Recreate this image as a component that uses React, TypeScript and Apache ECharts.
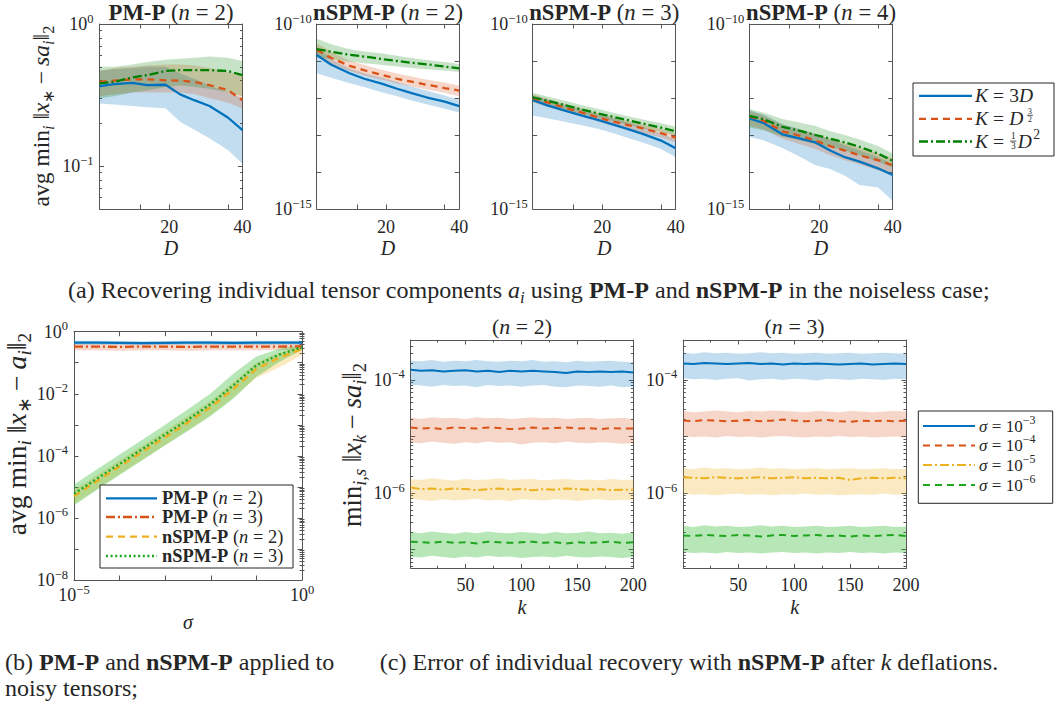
import React, { useEffect, useRef } from 'react';
import * as echarts from 'echarts';

const FONT = '"Liberation Serif", "Times New Roman", Times, serif';
const INK = '#262626';
const AXIS = '#555555';
const BLUE = '#0072BD';
const ORANGE = '#D95319';
const YELLOW = '#EDB120';
const DKGREEN = '#008000';
const GREEN = '#1FA51F';

// ---------------- (a) noiseless case, x = D ----------------
const D_VALUES = [1, 5, 10, 14, 19, 23, 27, 31, 36, 40];
const TOP_X_TICKS = [12, 20, 36, 40];
const TOP_X_LABELS = [20, 40];

// (a1) PM-P, n = 2  (plain values)
const a1_3D = [0.366, 0.378, 0.386, 0.372, 0.374, 0.32, 0.29, 0.265, 0.22, 0.179];
const a1_3D_lo = [0.276, 0.272, 0.265, 0.26, 0.256, 0.205, 0.18, 0.157, 0.13, 0.104];
const a1_3D_hi = [0.47, 0.48, 0.49, 0.5, 0.5, 0.45, 0.41, 0.37, 0.33, 0.3];
const a1_D15 = [0.392, 0.4, 0.408, 0.408, 0.402, 0.4, 0.39, 0.372, 0.343, 0.291];
const a1_D15_lo = [0.31, 0.32, 0.33, 0.33, 0.33, 0.33, 0.32, 0.3, 0.28, 0.255];
const a1_D15_hi = [0.47, 0.49, 0.5, 0.51, 0.52, 0.52, 0.51, 0.49, 0.46, 0.44];
const a1_D2 = [0.382, 0.392, 0.421, 0.437, 0.467, 0.474, 0.474, 0.474, 0.467, 0.437];
const a1_D2_lo = [0.3, 0.31, 0.33, 0.34, 0.36, 0.37, 0.36, 0.35, 0.33, 0.31];
const a1_D2_hi = [0.5, 0.5, 0.52, 0.54, 0.56, 0.57, 0.58, 0.59, 0.58, 0.55];

// (a2) nSPM-P, n = 2  (base-10 exponents)
const a2_3D_exp = [-10.84, -11.1, -11.33, -11.48, -11.62, -11.75, -11.87, -11.98, -12.1, -12.22];
const a2_3D_lo_exp = [-11.33, -11.45, -11.6, -11.7, -11.85, -11.95, -12.07, -12.17, -12.29, -12.39];
const a2_3D_hi_exp = [-10.62, -10.95, -11.2, -11.33, -11.45, -11.57, -11.69, -11.8, -11.93, -12.05];
const a2_D15_exp = [-10.7, -10.92, -11.13, -11.25, -11.38, -11.48, -11.56, -11.64, -11.73, -11.8];
const a2_D15_lo_exp = [-10.88, -11.08, -11.27, -11.39, -11.51, -11.61, -11.69, -11.77, -11.86, -11.95];
const a2_D15_hi_exp = [-10.52, -10.76, -10.99, -11.11, -11.24, -11.34, -11.42, -11.5, -11.59, -11.66];
const a2_D2_exp = [-10.68, -10.75, -10.83, -10.88, -10.95, -11.0, -11.05, -11.09, -11.15, -11.2];
const a2_D2_lo_exp = [-10.9, -10.95, -11.02, -11.06, -11.11, -11.15, -11.19, -11.22, -11.26, -11.3];
const a2_D2_hi_exp = [-10.4, -10.55, -10.68, -10.74, -10.8, -10.86, -10.92, -10.97, -11.03, -11.08];

// (a3) nSPM-P, n = 3
const a3_3D_exp = [-12.05, -12.2, -12.35, -12.46, -12.6, -12.72, -12.84, -12.97, -13.15, -13.36];
const a3_3D_lo_exp = [-12.47, -12.55, -12.65, -12.73, -12.84, -12.95, -13.08, -13.2, -13.38, -13.6];
const a3_3D_hi_exp = [-11.93, -12.05, -12.2, -12.3, -12.45, -12.55, -12.66, -12.78, -12.95, -13.12];
const a3_D15_exp = [-12.0, -12.12, -12.27, -12.38, -12.53, -12.64, -12.73, -12.82, -12.95, -13.07];
const a3_D15_lo_exp = [-12.12, -12.24, -12.38, -12.49, -12.64, -12.75, -12.85, -12.94, -13.07, -13.2];
const a3_D15_hi_exp = [-11.9, -12.02, -12.16, -12.27, -12.41, -12.52, -12.62, -12.71, -12.84, -12.95];
const a3_D2_exp = [-11.98, -12.07, -12.2, -12.3, -12.42, -12.51, -12.6, -12.69, -12.8, -12.9];
const a3_D2_lo_exp = [-12.1, -12.19, -12.32, -12.42, -12.54, -12.63, -12.72, -12.81, -12.92, -13.02];
const a3_D2_hi_exp = [-11.86, -11.96, -12.08, -12.18, -12.3, -12.4, -12.49, -12.58, -12.68, -12.78];

// (a4) nSPM-P, n = 4
const a4_3D_exp = [-12.55, -12.68, -12.98, -13.08, -13.2, -13.42, -13.6, -13.72, -13.9, -14.08];
const a4_3D_lo_exp = [-13.05, -13.15, -13.35, -13.55, -13.82, -13.92, -14.1, -14.35, -14.42, -14.78];
const a4_3D_hi_exp = [-12.33, -12.45, -12.7, -12.82, -12.98, -13.12, -13.28, -13.42, -13.6, -13.78];
const a4_D15_exp = [-12.5, -12.62, -12.9, -13.0, -13.15, -13.3, -13.42, -13.55, -13.68, -13.82];
const a4_D15_lo_exp = [-12.75, -12.85, -13.1, -13.22, -13.38, -13.55, -13.68, -13.8, -13.95, -14.1];
const a4_D15_hi_exp = [-12.35, -12.48, -12.72, -12.83, -12.97, -13.1, -13.22, -13.35, -13.5, -13.63];
const a4_D2_exp = [-12.48, -12.58, -12.78, -12.87, -13.0, -13.1, -13.2, -13.32, -13.5, -13.7];
const a4_D2_lo_exp = [-12.8, -12.88, -13.05, -13.12, -13.25, -13.33, -13.42, -13.55, -13.72, -13.88];
const a4_D2_hi_exp = [-12.3, -12.4, -12.57, -12.65, -12.76, -12.9, -13.0, -13.12, -13.3, -13.5];

// ---------------- (b) noisy tensors, x = log10(sigma) ----------------
const SIGMA_EXP = [-5, -4.5, -4, -3.5, -3, -2.5, -2, -1.5, -1, -0.5, 0];
const b_pmp2_exp = [-0.35, -0.35, -0.36, -0.37, -0.36, -0.35, -0.35, -0.36, -0.35, -0.35, -0.35];
const b_pmp2_lo_exp = [-0.42, -0.42, -0.43, -0.44, -0.43, -0.42, -0.42, -0.43, -0.42, -0.42, -0.42];
const b_pmp2_hi_exp = [-0.29, -0.29, -0.3, -0.31, -0.3, -0.29, -0.29, -0.3, -0.29, -0.29, -0.29];
const b_pmp3_exp = [-0.48, -0.48, -0.49, -0.48, -0.48, -0.49, -0.48, -0.48, -0.48, -0.48, -0.47];
const b_pmp3_lo_exp = [-0.6, -0.6, -0.61, -0.6, -0.6, -0.61, -0.6, -0.6, -0.6, -0.59, -0.58];
const b_pmp3_hi_exp = [-0.4, -0.4, -0.41, -0.4, -0.4, -0.41, -0.4, -0.4, -0.4, -0.4, -0.39];
const b_nspm2_exp = [-5.3, -4.82, -4.34, -3.87, -3.4, -2.92, -2.43, -1.84, -1.2, -0.84, -0.56];
const b_nspm2_lo_exp = [-5.55, -5.07, -4.59, -4.12, -3.65, -3.17, -2.68, -2.1, -1.48, -1.15, -0.75];
const b_nspm2_hi_exp = [-5.1, -4.62, -4.14, -3.67, -3.2, -2.72, -2.23, -1.62, -1.0, -0.68, -0.46];
const b_nspm3_exp = [-5.22, -4.74, -4.26, -3.78, -3.31, -2.83, -2.33, -1.72, -1.08, -0.74, -0.5];
const b_nspm3_lo_exp = [-5.6, -5.1, -4.62, -4.14, -3.66, -3.2, -2.72, -2.15, -1.45, -0.98, -0.58];
const b_nspm3_hi_exp = [-4.92, -4.44, -3.96, -3.48, -3.0, -2.5, -1.98, -1.35, -0.8, -0.55, -0.42];

// ---------------- (c) deflations, x = k ----------------
const K_VALUES = [1, 10, 20, 30, 40, 50, 60, 70, 80, 90, 100, 110, 120, 130, 140, 150, 160, 170, 180, 190, 200];
// n = 2
const c1_s3_exp = [-3.82, -3.84, -3.83, -3.85, -3.84, -3.83, -3.85, -3.84, -3.86, -3.84, -3.85, -3.84, -3.85, -3.86, -3.88, -3.85, -3.86, -3.85, -3.86, -3.85, -3.87];
const c1_s3_hi_exp = [-3.66, -3.67, -3.65, -3.68, -3.66, -3.67, -3.65, -3.67, -3.68, -3.66, -3.67, -3.65, -3.68, -3.67, -3.69, -3.66, -3.68, -3.67, -3.66, -3.68, -3.69];
const c1_s3_lo_exp = [-4.08, -4.1, -4.12, -4.09, -4.11, -4.1, -4.13, -4.09, -4.11, -4.1, -4.12, -4.1, -4.09, -4.12, -4.13, -4.1, -4.11, -4.12, -4.1, -4.13, -4.12];
const c1_s4_exp = [-4.84, -4.86, -4.85, -4.87, -4.84, -4.85, -4.86, -4.84, -4.85, -4.87, -4.86, -4.84, -4.86, -4.85, -4.84, -4.86, -4.85, -4.87, -4.85, -4.86, -4.86];
const c1_s4_hi_exp = [-4.67, -4.69, -4.66, -4.68, -4.67, -4.69, -4.66, -4.68, -4.67, -4.69, -4.68, -4.66, -4.68, -4.67, -4.69, -4.68, -4.67, -4.69, -4.68, -4.67, -4.69];
const c1_s4_lo_exp = [-5.1, -5.12, -5.09, -5.11, -5.13, -5.1, -5.12, -5.09, -5.11, -5.1, -5.14, -5.11, -5.1, -5.12, -5.09, -5.11, -5.12, -5.1, -5.11, -5.13, -5.12];
const c1_s5_exp = [-5.9, -5.93, -5.92, -5.94, -5.92, -5.93, -5.95, -5.93, -5.92, -5.94, -5.93, -5.95, -5.93, -5.94, -5.92, -5.93, -5.94, -5.93, -5.95, -5.94, -5.94];
const c1_s5_hi_exp = [-5.75, -5.77, -5.74, -5.76, -5.78, -5.75, -5.77, -5.76, -5.74, -5.77, -5.76, -5.75, -5.78, -5.76, -5.75, -5.77, -5.76, -5.78, -5.75, -5.77, -5.76];
const c1_s5_lo_exp = [-6.1, -6.12, -6.14, -6.11, -6.13, -6.12, -6.1, -6.13, -6.12, -6.14, -6.11, -6.12, -6.13, -6.11, -6.12, -6.14, -6.12, -6.11, -6.13, -6.12, -6.13];
const c1_s6_exp = [-6.86, -6.87, -6.88, -6.86, -6.88, -6.87, -6.89, -6.86, -6.87, -6.88, -6.87, -6.86, -6.88, -6.87, -6.89, -6.87, -6.88, -6.87, -6.86, -6.88, -6.87];
const c1_s6_hi_exp = [-6.69, -6.71, -6.68, -6.7, -6.72, -6.69, -6.71, -6.68, -6.7, -6.71, -6.69, -6.7, -6.72, -6.69, -6.71, -6.7, -6.68, -6.71, -6.7, -6.72, -6.7];
const c1_s6_lo_exp = [-7.12, -7.14, -7.11, -7.13, -7.15, -7.12, -7.14, -7.11, -7.13, -7.12, -7.15, -7.13, -7.12, -7.14, -7.11, -7.13, -7.14, -7.12, -7.13, -7.15, -7.13];
// n = 3
const c2_s3_exp = [-3.71, -3.72, -3.7, -3.71, -3.72, -3.71, -3.7, -3.72, -3.71, -3.73, -3.71, -3.72, -3.71, -3.72, -3.73, -3.72, -3.71, -3.73, -3.72, -3.71, -3.72];
const c2_s3_hi_exp = [-3.52, -3.54, -3.51, -3.53, -3.52, -3.54, -3.53, -3.51, -3.53, -3.52, -3.54, -3.53, -3.52, -3.54, -3.53, -3.52, -3.54, -3.53, -3.52, -3.53, -3.54];
const c2_s3_lo_exp = [-3.97, -3.99, -3.98, -4.0, -3.98, -3.97, -4.01, -3.99, -3.98, -4.0, -3.98, -3.99, -4.01, -3.98, -3.99, -4.0, -3.98, -3.99, -4.0, -3.98, -3.99];
const c2_s4_exp = [-4.72, -4.73, -4.71, -4.72, -4.73, -4.72, -4.71, -4.73, -4.72, -4.7, -4.72, -4.73, -4.72, -4.71, -4.73, -4.74, -4.72, -4.73, -4.72, -4.73, -4.72];
const c2_s4_hi_exp = [-4.55, -4.57, -4.56, -4.54, -4.56, -4.57, -4.55, -4.56, -4.54, -4.55, -4.56, -4.57, -4.55, -4.56, -4.57, -4.55, -4.56, -4.57, -4.56, -4.55, -4.56];
const c2_s4_lo_exp = [-4.99, -5.01, -5.0, -5.02, -4.99, -5.01, -5.0, -5.02, -5.0, -4.99, -5.01, -5.02, -5.0, -5.01, -4.99, -5.01, -5.0, -5.02, -5.01, -5.0, -5.01];
const c2_s5_exp = [-5.72, -5.73, -5.74, -5.72, -5.73, -5.74, -5.73, -5.72, -5.74, -5.73, -5.72, -5.74, -5.73, -5.74, -5.73, -5.77, -5.74, -5.73, -5.74, -5.73, -5.74];
const c2_s5_hi_exp = [-5.56, -5.58, -5.55, -5.57, -5.56, -5.58, -5.57, -5.55, -5.57, -5.56, -5.58, -5.57, -5.56, -5.58, -5.57, -5.56, -5.58, -5.57, -5.56, -5.58, -5.57];
const c2_s5_lo_exp = [-6.01, -6.03, -6.02, -6.04, -6.02, -6.01, -6.03, -6.02, -6.04, -6.02, -6.03, -6.01, -6.03, -6.02, -6.04, -6.03, -6.02, -6.03, -6.01, -6.03, -6.02];
const c2_s6_exp = [-6.75, -6.76, -6.74, -6.75, -6.76, -6.74, -6.75, -6.77, -6.75, -6.74, -6.76, -6.75, -6.74, -6.76, -6.75, -6.77, -6.75, -6.76, -6.75, -6.74, -6.76];
const c2_s6_hi_exp = [-6.58, -6.6, -6.57, -6.59, -6.58, -6.6, -6.59, -6.57, -6.59, -6.58, -6.6, -6.59, -6.58, -6.6, -6.59, -6.58, -6.6, -6.59, -6.58, -6.6, -6.59];
const c2_s6_lo_exp = [-7.04, -7.06, -7.05, -7.07, -7.04, -7.06, -7.05, -7.07, -7.05, -7.04, -7.06, -7.05, -7.07, -7.05, -7.06, -7.04, -7.06, -7.05, -7.07, -7.05, -7.06];

// ---------------- text layout helpers ----------------
let measureCtx: CanvasRenderingContext2D | null = null;
function textWidth(text: string, font: string): number {
  if (!measureCtx) measureCtx = document.createElement('canvas').getContext('2d');
  measureCtx!.font = font;
  return measureCtx!.measureText(text).width;
}

type Tok = { t?: string; k?: string; frac?: [string, string]; mode?: 'sup' | 'inline'; pl?: number; pr?: number };
const EQ: Tok = { t: '=', pl: 0.26, pr: 0.26 };

function fontFor(kind: string, size: number) {
  const italic = kind === 'i' || kind === 'subi' || kind === 'supi';
  const bold = kind === 'b';
  const small = kind.indexOf('sub') === 0 || kind.indexOf('sup') === 0;
  const s = small ? size * 0.7 : size;
  return `${italic ? 'italic ' : ''}${bold ? 'bold ' : ''}${s.toFixed(2)}px ${FONT}`;
}

function buildRun(toks: Tok[], size: number) {
  const items: any[] = [];
  let x = 0;
  for (const tk of toks) {
    x += (tk.pl || 0) * size;
    if (tk.frac) {
      const sup = tk.mode === 'sup';
      const fs = size * (sup ? 0.4 : 0.48);
      const f = `${fs.toFixed(2)}px ${FONT}`;
      const w = Math.max(textWidth(tk.frac[0], f), textWidth(tk.frac[1], f)) + size * 0.1;
      const cy = sup ? -0.18 * size : -0.02 * size;
      const gap = sup ? 0.21 * size : 0.27 * size;
      const xx = x + size * 0.04;
      items.push({ type: 'text', x: xx + w / 2, y: cy - gap, style: { text: tk.frac[0], font: f, fill: INK, textAlign: 'center', textVerticalAlign: 'middle' } });
      items.push({ type: 'text', x: xx + w / 2, y: cy + gap, style: { text: tk.frac[1], font: f, fill: INK, textAlign: 'center', textVerticalAlign: 'middle' } });
      items.push({ type: 'line', shape: { x1: xx, y1: cy, x2: xx + w, y2: cy }, style: { stroke: INK, lineWidth: Math.max(0.7, size * 0.04) } });
      x = xx + w + size * 0.06;
    } else {
      const kind = tk.k || 'r';
      const font = fontFor(kind, size);
      let dy = 0;
      if (kind.indexOf('sub') === 0) dy = 0.3 * size;
      if (kind.indexOf('sup') === 0) dy = -0.38 * size;
      items.push({ type: 'text', x, y: dy, style: { text: tk.t, font, fill: INK, textAlign: 'left', textVerticalAlign: 'middle' } });
      x += textWidth(tk.t || '', font);
    }
    x += (tk.pr || 0) * size;
  }
  return { items, width: x };
}

function fitSize(toks: Tok[], width: number, s0 = 20) {
  return (s0 * width) / buildRun(toks, s0).width;
}

function mathText(toks: Tok[], o: { x: number; y: number; size: number; align?: string; rotation?: number }) {
  const { items, width } = buildRun(toks, o.size);
  const off = o.align === 'center' ? -width / 2 : o.align === 'right' ? -width : 0;
  const children = items.map((it) =>
    it.type === 'line'
      ? { ...it, z: 100, shape: { ...it.shape, x1: it.shape.x1 + off, x2: it.shape.x2 + off } }
      : { ...it, z: 100, x: it.x + off }
  );
  return { type: 'group', x: o.x, y: o.y, rotation: o.rotation || 0, silent: true, children };
}

// ---------------- axis helpers ----------------
const expStr = (v: number) => {
  const n = Math.round(v);
  return n < 0 ? '\u2212' + -n : String(n);
};
const expRich = {
  b: { fontFamily: FONT, fontSize: 18, lineHeight: 24, color: INK },
  s: { fontFamily: FONT, fontSize: 12.5, lineHeight: 12, verticalAlign: 'top', color: INK },
};
const expFmt = (v: number) => `{b|10}{s|${expStr(v)}}`;
const numFmt = (v: number) => String(Math.round(v));

function logMinor(minE: number, maxE: number) {
  const out: number[] = [];
  for (let e = Math.floor(minE); e < Math.ceil(maxE); e++) {
    for (let m = 2; m <= 9; m++) {
      const v = e + Math.log10(m);
      if (v > minE + 1e-6 && v < maxE - 1e-6) out.push(v);
    }
  }
  return out;
}
function range(a: number, b: number) {
  const out: number[] = [];
  for (let v = a; v <= b; v++) out.push(v);
  return out;
}

interface AxisCfg {
  min: number;
  max: number;
  major: number[];
  minor?: number[];
  labels: number[];
  fmt: (v: number) => string;
  rich?: boolean;
  margin: number;
}

function addAxes(list: any[], gi: number, dim: 'x' | 'y', c: AxisCfg) {
  const posMain = dim === 'x' ? 'bottom' : 'left';
  const posOpp = dim === 'x' ? 'top' : 'right';
  const common = { type: 'value', gridIndex: gi, min: c.min, max: c.max, splitLine: { show: false }, splitArea: { show: false }, silent: true };
  const axLine = { show: true, onZero: false, lineStyle: { color: AXIS, width: 1 } };
  const tick = (vals: number[], len: number) => ({ show: true, inside: true, length: len, customValues: vals, lineStyle: { color: AXIS, width: 1 } });
  const idx = list.length;
  const label: any = { show: true, customValues: c.labels, formatter: c.fmt, margin: c.margin, hideOverlap: false, color: INK, fontFamily: FONT, fontSize: 18 };
  if (c.rich) label.rich = expRich;
  list.push({ ...common, position: posMain, axisLine: axLine, axisTick: tick(c.major, 4.5), axisLabel: label });
  list.push({ ...common, position: posOpp, axisLine: axLine, axisTick: tick(c.major, 4.5), axisLabel: { show: false } });
  if (c.minor && c.minor.length) {
    list.push({ ...common, position: posMain, axisLine: { show: false }, axisTick: tick(c.minor, 2.5), axisLabel: { show: false } });
    list.push({ ...common, position: posOpp, axisLine: { show: false }, axisTick: tick(c.minor, 2.5), axisLabel: { show: false } });
  }
  return idx;
}

function lineSeries(xi: number, yi: number, xs: number[], ys: number[], color: string, type: any, width = 2.2, cap = 'butt') {
  return {
    type: 'line', xAxisIndex: xi, yAxisIndex: yi, data: xs.map((x, i) => [x, ys[i]]),
    symbol: 'none', showSymbol: false, silent: true, z: 3, clip: true,
    lineStyle: { color, width, type, cap },
  };
}

function bandSeries(xi: number, yi: number, xs: number[], lo: number[], hi: number[], fill: string) {
  return {
    type: 'custom', xAxisIndex: xi, yAxisIndex: yi, silent: true, z: 1, clip: true,
    data: xs.map((x, i) => [x, lo[i], hi[i]]),
    encode: { x: 0, y: [1, 2] },
    renderItem: (params: any, api: any) => {
      if (params.dataIndex !== 0) return null;
      const pts: number[][] = [];
      for (let i = 0; i < xs.length; i++) pts.push(api.coord([xs[i], lo[i]]));
      for (let i = xs.length - 1; i >= 0; i--) pts.push(api.coord([xs[i], hi[i]]));
      return { type: 'polygon', shape: { points: pts }, style: { fill } };
    },
  };
}

const BAND_BLUE = 'rgba(0,114,189,0.24)';
const BAND_ORANGE = 'rgba(217,83,25,0.24)';
const BAND_DKGREEN = 'rgba(0,128,0,0.22)';
const BAND_YELLOW = 'rgba(237,177,32,0.28)';
const BAND_GREEN = 'rgba(30,180,30,0.32)';
const DASH = [7, 5];
const DASHDOT = [9, 3, 2, 3];
const DOT = [2, 2.6];

function buildOption() {
  const grids: any[] = [];
  const xAxes: any[] = [];
  const yAxes: any[] = [];
  const series: any[] = [];
  const g: any[] = [];

  const lg = (a: number[]) => a.map((v) => Math.log10(v));

  // ---- top row ----
  const topRects = [
    { left: 99.5, width: 143 },
    { left: 316.7, width: 142.5 },
    { left: 532.7, width: 143 },
    { left: 749.3, width: 143.4 },
  ];
  const topData = [
    [lg(a1_3D), lg(a1_3D_lo), lg(a1_3D_hi), lg(a1_D15), lg(a1_D15_lo), lg(a1_D15_hi), lg(a1_D2), lg(a1_D2_lo), lg(a1_D2_hi)],
    [a2_3D_exp, a2_3D_lo_exp, a2_3D_hi_exp, a2_D15_exp, a2_D15_lo_exp, a2_D15_hi_exp, a2_D2_exp, a2_D2_lo_exp, a2_D2_hi_exp],
    [a3_3D_exp, a3_3D_lo_exp, a3_3D_hi_exp, a3_D15_exp, a3_D15_lo_exp, a3_D15_hi_exp, a3_D2_exp, a3_D2_lo_exp, a3_D2_hi_exp],
    [a4_3D_exp, a4_3D_lo_exp, a4_3D_hi_exp, a4_D15_exp, a4_D15_lo_exp, a4_D15_hi_exp, a4_D2_exp, a4_D2_lo_exp, a4_D2_hi_exp],
  ];
  topRects.forEach((r, p) => {
    grids.push({ left: r.left, top: 24, width: r.width, height: 185, containLabel: false });
    const gi = grids.length - 1;
    const xi = addAxes(xAxes, gi, 'x', { min: 1, max: 40, major: TOP_X_TICKS, labels: TOP_X_LABELS, fmt: numFmt, margin: 9 });
    const ycfg: AxisCfg = p === 0
      ? { min: Math.log10(0.05), max: 0, major: [-1, 0], minor: logMinor(Math.log10(0.05), 0), labels: [-1, 0], fmt: expFmt, rich: true, margin: 6 }
      : { min: -15, max: -10, major: range(-15, -10), labels: [-15, -10], fmt: expFmt, rich: true, margin: 5 };
    const yi = addAxes(yAxes, gi, 'y', ycfg);
    const d = topData[p];
    series.push(bandSeries(xi, yi, D_VALUES, d[1], d[2], BAND_BLUE));
    series.push(bandSeries(xi, yi, D_VALUES, d[4], d[5], BAND_ORANGE));
    series.push(bandSeries(xi, yi, D_VALUES, d[7], d[8], BAND_DKGREEN));
    series.push(lineSeries(xi, yi, D_VALUES, d[0], BLUE, 'solid', 2.3));
    series.push(lineSeries(xi, yi, D_VALUES, d[3], ORANGE, DASH, 2.3));
    series.push(lineSeries(xi, yi, D_VALUES, d[6], DKGREEN, DASHDOT, 2.3));
  });

  // ---- (b) ----
  grids.push({ left: 74, top: 331.7, width: 228, height: 248.3, containLabel: false });
  const gb = grids.length - 1;
  const xb = addAxes(xAxes, gb, 'x', { min: -5, max: 0, major: range(-5, 0), labels: [-5, 0], fmt: expFmt, rich: true, margin: 3 });
  const yb = addAxes(yAxes, gb, 'y', { min: -8, max: 0, major: range(-8, 0), minor: logMinor(-8, 0), labels: [-8, -6, -4, -2, 0], fmt: expFmt, rich: true, margin: 6 });
  series.push(bandSeries(xb, yb, SIGMA_EXP, b_pmp2_lo_exp, b_pmp2_hi_exp, BAND_BLUE));
  series.push(bandSeries(xb, yb, SIGMA_EXP, b_pmp3_lo_exp, b_pmp3_hi_exp, BAND_ORANGE));
  series.push(bandSeries(xb, yb, SIGMA_EXP, b_nspm2_lo_exp, b_nspm2_hi_exp, BAND_YELLOW));
  series.push(bandSeries(xb, yb, SIGMA_EXP, b_nspm3_lo_exp, b_nspm3_hi_exp, BAND_GREEN));
  series.push(lineSeries(xb, yb, SIGMA_EXP, b_pmp2_exp, BLUE, 'solid', 2.3));
  series.push(lineSeries(xb, yb, SIGMA_EXP, b_pmp3_exp, ORANGE, DASHDOT, 2.3));
  series.push(lineSeries(xb, yb, SIGMA_EXP, b_nspm2_exp, YELLOW, DASH, 2.3));
  series.push(lineSeries(xb, yb, SIGMA_EXP, b_nspm3_exp, GREEN, DOT, 2.4));

  // ---- (c) ----
  const cRects = [{ left: 410.7, width: 222.6 }, { left: 683.3, width: 222.7 }];
  const cData = [
    [c1_s3_exp, c1_s3_lo_exp, c1_s3_hi_exp, c1_s4_exp, c1_s4_lo_exp, c1_s4_hi_exp, c1_s5_exp, c1_s5_lo_exp, c1_s5_hi_exp, c1_s6_exp, c1_s6_lo_exp, c1_s6_hi_exp],
    [c2_s3_exp, c2_s3_lo_exp, c2_s3_hi_exp, c2_s4_exp, c2_s4_lo_exp, c2_s4_hi_exp, c2_s5_exp, c2_s5_lo_exp, c2_s5_hi_exp, c2_s6_exp, c2_s6_lo_exp, c2_s6_hi_exp],
  ];
  const cMin = -7.33;
  const cMax = -3.295;
  cRects.forEach((r, p) => {
    grids.push({ left: r.left, top: 340, width: r.width, height: 228.3, containLabel: false });
    const gi = grids.length - 1;
    const xi = addAxes(xAxes, gi, 'x', { min: 1, max: 200, major: [50, 100, 150, 200], minor: [25, 75, 125, 175], labels: [50, 100, 150, 200], fmt: numFmt, margin: 8 });
    const yi = addAxes(yAxes, gi, 'y', { min: cMin, max: cMax, major: [-7, -6, -5, -4], minor: logMinor(cMin, cMax), labels: [-6, -4], fmt: expFmt, rich: true, margin: 6 });
    const d = cData[p];
    series.push(bandSeries(xi, yi, K_VALUES, d[1], d[2], BAND_BLUE));
    series.push(bandSeries(xi, yi, K_VALUES, d[4], d[5], BAND_ORANGE));
    series.push(bandSeries(xi, yi, K_VALUES, d[7], d[8], BAND_YELLOW));
    series.push(bandSeries(xi, yi, K_VALUES, d[10], d[11], BAND_GREEN));
    series.push(lineSeries(xi, yi, K_VALUES, d[0], BLUE, 'solid', 2));
    series.push(lineSeries(xi, yi, K_VALUES, d[3], ORANGE, DASH, 2));
    series.push(lineSeries(xi, yi, K_VALUES, d[6], YELLOW, DASHDOT, 2));
    series.push(lineSeries(xi, yi, K_VALUES, d[9], GREEN, DASH, 2));
  });

  // ---- texts ----
  const titleTok = (name: string, n: number): Tok[] => [{ t: name, k: 'b' }, { t: ' (' }, { t: 'n', k: 'i' }, EQ, { t: `${n})` }];
  const tSize = fitSize(titleTok('nSPM-P', 2), 150);
  g.push(mathText(titleTok('PM-P', 2), { x: 171, y: 12, size: fitSize(titleTok('PM-P', 2), 125), align: 'center' }));
  g.push(mathText(titleTok('nSPM-P', 2), { x: 388, y: 12, size: tSize, align: 'center' }));
  g.push(mathText(titleTok('nSPM-P', 3), { x: 604.2, y: 12, size: tSize, align: 'center' }));
  g.push(mathText(titleTok('nSPM-P', 4), { x: 821, y: 12, size: tSize, align: 'center' }));

  const topY: Tok[] = [{ t: 'avg min' }, { t: 'i', k: 'subi' }, { t: ' \u2016' }, { t: 'x', k: 'i' }, { t: '\u2217', k: 'sub' }, { t: '\u2212', pl: 0.22, pr: 0.22 }, { t: 'sa', k: 'i' }, { t: 'i', k: 'subi' }, { t: '\u2016' }, { t: '2', k: 'sub' }];
  g.push(mathText(topY, { x: 41, y: 116, size: fitSize(topY, 182), align: 'center', rotation: Math.PI / 2 }));
  const DTok: Tok[] = [{ t: 'D', k: 'i' }];
  [171, 388, 604.2, 821].forEach((cx) => g.push(mathText(DTok, { x: cx, y: 248, size: 20, align: 'center' })));

  // top legend
  g.push({ type: 'rect', z: 99, silent: true, shape: { x: 913, y: 83, width: 141, height: 73 }, style: { fill: '#fff', stroke: INK, lineWidth: 1 } });
  const legTop: { y: number; color: string; dash: any; toks: Tok[] }[] = [
    { y: 95.8, color: BLUE, dash: null, toks: [{ t: 'K', k: 'i' }, EQ, { t: '3' }, { t: 'D', k: 'i' }] },
    { y: 118.8, color: ORANGE, dash: DASH, toks: [{ t: 'K', k: 'i' }, EQ, { t: 'D', k: 'i' }, { frac: ['3', '2'], mode: 'sup', pl: 0.16 }] },
    { y: 141.5, color: DKGREEN, dash: DASHDOT, toks: [{ t: 'K', k: 'i' }, EQ, { frac: ['1', '3'], mode: 'inline' }, { t: 'D', k: 'i' }, { t: '2', k: 'sup', pl: 0.08 }] },
  ];
  const ltSize = Math.min(19.5, fitSize(legTop[0].toks, 63));
  legTop.forEach((e) => {
    g.push({ type: 'line', z: 100, silent: true, shape: { x1: 919, y1: e.y, x2: 972, y2: e.y }, style: { stroke: e.color, lineWidth: 2.3, lineDash: e.dash || undefined } });
    g.push(mathText(e.toks, { x: 975, y: e.y, size: ltSize, align: 'left' }));
  });

  // (b) labels and legend
  const bY: Tok[] = [{ t: 'avg min' }, { t: 'i', k: 'subi' }, { t: ' \u2016' }, { t: 'x', k: 'i' }, { t: '\u2217', k: 'sub' }, { t: '\u2212', pl: 0.22, pr: 0.22 }, { t: 'a', k: 'i' }, { t: 'i', k: 'subi' }, { t: '\u2016' }, { t: '2', k: 'sub' }];
  g.push(mathText(bY, { x: 16, y: 434, size: fitSize(bY, 203), align: 'center', rotation: Math.PI / 2 }));
  g.push(mathText([{ t: '\u03c3', k: 'i' }], { x: 188, y: 622, size: 20, align: 'center' }));
  g.push({ type: 'rect', z: 99, silent: true, shape: { x: 100, y: 485, width: 193, height: 83 }, style: { fill: '#fff', stroke: INK, lineWidth: 1 } });
  const legB = [
    { y: 498.3, color: BLUE, dash: null, w: 2.3, toks: titleTok('PM-P', 2) },
    { y: 517, color: ORANGE, dash: DASHDOT, w: 2.3, toks: titleTok('PM-P', 3) },
    { y: 536.7, color: YELLOW, dash: DASH, w: 2.3, toks: titleTok('nSPM-P', 2) },
    { y: 556, color: GREEN, dash: DOT, w: 2.4, toks: titleTok('nSPM-P', 3) },
  ];
  const lbSize = fitSize(legB[0].toks, 101);
  legB.forEach((e) => {
    g.push({ type: 'line', z: 100, silent: true, shape: { x1: 106, y1: e.y, x2: 157, y2: e.y }, style: { stroke: e.color, lineWidth: e.w, lineDash: e.dash || undefined } });
    g.push(mathText(e.toks, { x: 162, y: e.y, size: lbSize, align: 'left' }));
  });

  // (c) labels and legend
  const cY: Tok[] = [{ t: 'min' }, { t: 'i,s', k: 'subi' }, { t: ' \u2016' }, { t: 'x', k: 'i' }, { t: 'k', k: 'subi' }, { t: '\u2212', pl: 0.22, pr: 0.22 }, { t: 'sa', k: 'i' }, { t: 'i', k: 'subi' }, { t: '\u2016' }, { t: '2', k: 'sub' }];
  g.push(mathText(cY, { x: 352, y: 445, size: fitSize(cY, 164), align: 'center', rotation: Math.PI / 2 }));
  const nTok = (n: number): Tok[] => [{ t: '(' }, { t: 'n', k: 'i' }, EQ, { t: `${n})` }];
  const cTitleSize = fitSize(nTok(2), 60);
  g.push(mathText(nTok(2), { x: 522, y: 327, size: cTitleSize, align: 'center' }));
  g.push(mathText(nTok(3), { x: 794.6, y: 327, size: cTitleSize, align: 'center' }));
  g.push(mathText([{ t: 'k', k: 'i' }], { x: 522, y: 607, size: 20, align: 'center' }));
  g.push(mathText([{ t: 'k', k: 'i' }], { x: 794.6, y: 607, size: 20, align: 'center' }));
  g.push({ type: 'rect', z: 99, silent: true, shape: { x: 918.3, y: 411, width: 134.4, height: 92.3 }, style: { fill: '#fff', stroke: INK, lineWidth: 1 } });
  const sigTok = (e: number): Tok[] => [{ t: '\u03c3', k: 'i' }, EQ, { t: '10' }, { t: '\u2212' + e, k: 'sup' }];
  const legC = [
    { y: 426, color: BLUE, dash: null, toks: sigTok(3) },
    { y: 445.5, color: ORANGE, dash: DASH, toks: sigTok(4) },
    { y: 465, color: YELLOW, dash: DASHDOT, toks: sigTok(5) },
    { y: 485, color: GREEN, dash: DASH, toks: sigTok(6) },
  ];
  const lcSize = Math.min(17, fitSize(legC[0].toks, 67));
  legC.forEach((e) => {
    g.push({ type: 'line', z: 100, silent: true, shape: { x1: 923, y1: e.y, x2: 975, y2: e.y }, style: { stroke: e.color, lineWidth: 2, lineDash: e.dash || undefined } });
    g.push(mathText(e.toks, { x: 979, y: e.y, size: lcSize, align: 'left' }));
  });

  // captions
  const capA: Tok[] = [{ t: '(a) Recovering individual tensor components ' }, { t: 'a', k: 'i' }, { t: 'i', k: 'subi' }, { t: ' using ' }, { t: 'PM-P', k: 'b' }, { t: ' and ' }, { t: 'nSPM-P', k: 'b' }, { t: ' in the noiseless case;' }];
  const capSize = fitSize(capA, 922);
  g.push(mathText(capA, { x: 68, y: 290, size: capSize, align: 'left' }));
  const capB1: Tok[] = [{ t: '(b) ' }, { t: 'PM-P', k: 'b' }, { t: ' and ' }, { t: 'nSPM-P', k: 'b' }, { t: ' applied to' }];
  g.push(mathText(capB1, { x: 5, y: 662, size: capSize, align: 'left' }));
  g.push(mathText([{ t: 'noisy tensors;' }], { x: 5, y: 688, size: capSize, align: 'left' }));
  const capC: Tok[] = [{ t: '(c) Error of individual recovery with ' }, { t: 'nSPM-P', k: 'b' }, { t: ' after ' }, { t: 'k', k: 'i' }, { t: ' deflations.' }];
  g.push(mathText(capC, { x: 689, y: 662, size: capSize, align: 'center' }));

  return {
    animation: false,
    backgroundColor: '#ffffff',
    textStyle: { fontFamily: FONT },
    grid: grids,
    xAxis: xAxes,
    yAxis: yAxes,
    series,
    graphic: g,
  };
}

export default function App() {
  const ref = useRef<HTMLDivElement>(null);
  useEffect(() => {
    const chart = echarts.init(ref.current!, undefined, { renderer: 'svg' });
    chart.setOption(buildOption() as any);
    return () => chart.dispose();
  }, []);
  return <div ref={ref} style={{ position: 'absolute', left: 0, top: 0, width: 1055, height: 706, background: '#fff' }} />;
}
